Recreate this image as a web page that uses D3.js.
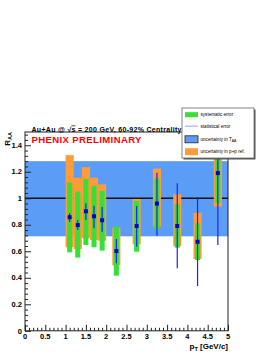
<html lang="en">
<head>
<meta charset="UTF-8">
<script src="https://d3js.org/d3.v7.min.js"></script>
<title>R_AA vs pT</title>
<style>
body { margin: 0; background: #fff; }
svg { display: block; }
text { font-family: "Liberation Sans", Arial, sans-serif; }
</style>
</head>
<body>
<svg id="canvas" width="274" height="355"></svg>
<script>
// data
let pt       = [1.1, 1.3, 1.5, 1.7, 1.9, 2.25, 2.75, 3.25, 3.75, 4.25, 4.75];
let raa      = [0.857, 0.798, 0.902, 0.864, 0.834, 0.602, 0.791, 0.960, 0.791, 0.672, 1.190];
let statLow  = [0.820, 0.760, 0.836, 0.774, 0.748, 0.509, 0.635, 0.718, 0.472, 0.338, 0.648];
let statHigh = [0.887, 0.836, 0.962, 0.944, 0.934, 0.693, 0.942, 1.193, 1.113, 1.010, 1.420];
let sysLow   = [0.592, 0.552, 0.648, 0.630, 0.605, 0.416, 0.597, 0.761, 0.627, 0.534, 0.962];
let sysHigh  = [1.118, 1.050, 1.146, 1.093, 1.057, 0.786, 0.980, 1.150, 0.955, 0.811, 1.420];
let ppLow    = [0.630, 0.617, 0.698, 0.685, 0.680, 0.494, 0.653, 0.786, 0.640, 0.542, 0.937];
let ppHigh   = [1.325, 1.155, 1.236, 1.155, 1.105, 0.778, 0.995, 1.224, 1.030, 0.891, 1.420];
let taaBand  = [0.713, 1.280];
let xTicks   = [0, 0.5, 1, 1.5, 2, 2.5, 3, 3.5, 4, 4.5, 5];
let yTicks   = [0, 0.2, 0.4, 0.6, 0.8, 1, 1.2, 1.4];
let legendLabels = ['systematic error', 'statistical error', 'uncertainty in T', 'uncertainty in p+p ref.'];

let canvas = d3.select('#canvas');
let x = d3.scaleLinear().domain([0, 5]).range([25, 228]);
let y = d3.scaleLinear().domain([0, 1.5]).range([330.8, 132]);

let orange = '#ff9c38';
let green = '#36e036';
let bandBlue = '#5b9cf7';
let statBlue = '#2020ff';

let points = pt.map((p, i) => ({
    pt: p, raa: raa[i],
    sl: statLow[i], sh: statHigh[i],
    yl: sysLow[i], yh: sysHigh[i],
    pl: ppLow[i], ph: ppHigh[i]
}));

// T_AA band
canvas.append('rect')
    .attr('x', x(0)).attr('width', x(5) - x(0))
    .attr('y', y(taaBand[1])).attr('height', y(taaBand[0]) - y(taaBand[1]))
    .attr('fill', bandBlue);

// line at 1
canvas.append('line')
    .attr('x1', x(0)).attr('x2', x(5))
    .attr('y1', y(1)).attr('y2', y(1))
    .attr('stroke', '#111').attr('stroke-width', 1.3);

let ppW = x(0.2) - x(0);
let sysW = x(0.125) - x(0);

canvas.selectAll('.pp').data(points).enter().append('rect')
    .attr('class', 'pp')
    .attr('x', d => x(d.pt) - ppW / 2).attr('width', ppW)
    .attr('y', d => y(d.ph)).attr('height', d => y(d.pl) - y(d.ph))
    .attr('fill', orange);

canvas.selectAll('.sys').data(points).enter().append('rect')
    .attr('class', 'sys')
    .attr('x', d => x(d.pt) - sysW / 2).attr('width', sysW)
    .attr('y', d => y(d.yh)).attr('height', d => y(d.yl) - y(d.yh))
    .attr('fill', green);

canvas.selectAll('.stat').data(points).enter().append('line')
    .attr('class', 'stat')
    .attr('x1', d => x(d.pt)).attr('x2', d => x(d.pt))
    .attr('y1', d => y(d.sh)).attr('y2', d => y(d.sl))
    .attr('stroke', statBlue).attr('stroke-width', 1.2);

canvas.selectAll('.pt').data(points).enter().append('rect')
    .attr('class', 'pt')
    .attr('x', d => x(d.pt) - 2).attr('y', d => y(d.raa) - 2)
    .attr('width', 4).attr('height', 4)
    .attr('fill', '#0000d0');

// frame
canvas.append('rect')
    .attr('x', x(0)).attr('y', y(1.5))
    .attr('width', x(5) - x(0)).attr('height', y(0) - y(1.5))
    .attr('fill', 'none').attr('stroke', '#222').attr('stroke-width', 1);

// axes ticks (ROOT style, inward)
let xAxis = d3.axisTop(x).tickValues(d3.range(0, 5.001, 0.1)).tickSize(3).tickFormat('');
let gx = canvas.append('g').attr('transform', 'translate(0,' + y(0) + ')').call(xAxis);
gx.select('.domain').remove();
gx.selectAll('.tick line').attr('stroke', '#222')
    .attr('y2', d => Math.abs(d * 2 - Math.round(d * 2)) < 1e-6 ? -6 : -3);

canvas.selectAll('.xlab').data(xTicks).enter().append('text')
    .attr('x', d => x(d)).attr('y', 339)
    .attr('text-anchor', 'middle')
    .attr('font-size', 7.5).attr('font-weight', 'bold')
    .text(d => d);

let yAxis = d3.axisRight(y).tickValues(d3.range(0, 1.5001, 0.04)).tickSize(3).tickFormat('');
let gy = canvas.append('g').attr('transform', 'translate(' + x(0) + ',0)').call(yAxis);
gy.select('.domain').remove();
gy.selectAll('.tick line').attr('stroke', '#222')
    .attr('x2', d => Math.abs(d * 5 - Math.round(d * 5)) < 1e-6 ? 6 : 3);

canvas.selectAll('.ylab').data(yTicks).enter().append('text')
    .attr('x', 22).attr('y', d => y(d) + 2.7)
    .attr('text-anchor', 'end')
    .attr('font-size', 7.5).attr('font-weight', 'bold')
    .text(d => d);

// axis titles
let ylab = canvas.append('text')
    .attr('transform', 'translate(10,132) rotate(-90)')
    .attr('text-anchor', 'end')
    .attr('font-size', 8).attr('font-weight', 'bold');
ylab.append('tspan').text('R');
ylab.append('tspan').attr('font-size', 5.5).attr('dy', 2).text('AA');

let xlab = canvas.append('text')
    .attr('x', 228).attr('y', 348.5)
    .attr('text-anchor', 'end')
    .attr('font-size', 8).attr('font-weight', 'bold');
xlab.append('tspan').text('p');
xlab.append('tspan').attr('font-size', 5.5).attr('dy', 2).text('T');
xlab.append('tspan').attr('dy', -2).text(' [GeV/c]');

// header texts
let title = canvas.append('text')
    .attr('x', 31.5).attr('y', 131.5)
    .attr('font-size', 7).attr('font-weight', 'bold')
    .attr('textLength', 150);
title.append('tspan').text('Au+Au @ √');
title.append('tspan').style('text-decoration', 'overline').text('s');
title.append('tspan').text(' = 200 GeV, 60-92% Centrality');

canvas.append('text')
    .attr('x', 31.5).attr('y', 143.3)
    .attr('font-size', 9.6).attr('font-weight', 'bold')
    .attr('fill', '#ff0000')
    .attr('textLength', 110)
    .text('PHENIX PRELIMINARY');

// legend
let lg = canvas.append('g').attr('transform', 'translate(182,108)');
lg.append('rect').attr('x', 1.5).attr('y', 1.5).attr('width', 72).attr('height', 50)
    .attr('fill', '#555');
lg.append('rect').attr('width', 72).attr('height', 50)
    .attr('fill', '#fff').attr('stroke', '#666').attr('stroke-width', 0.8);

let rowY = [6.7, 18.2, 31.3, 43.7];
lg.append('rect').attr('x', 3).attr('y', rowY[0] - 2.5).attr('width', 13).attr('height', 5).attr('fill', green);
lg.append('line').attr('x1', 3).attr('x2', 16).attr('y1', rowY[1]).attr('y2', rowY[1])
    .attr('stroke', '#9a9aff').attr('stroke-width', 1);
lg.append('rect').attr('x', 3).attr('y', rowY[2] - 3.5).attr('width', 13).attr('height', 7)
    .attr('fill', bandBlue).attr('stroke', '#222').attr('stroke-width', 0.8);
lg.append('rect').attr('x', 3).attr('y', rowY[3] - 3.5).attr('width', 13).attr('height', 7).attr('fill', orange);

lg.selectAll('.lgtext').data(legendLabels).enter().append('text')
    .attr('class', 'lgtext')
    .attr('x', 18.5).attr('y', (d, i) => rowY[i] + 1.6)
    .attr('font-size', 4.6)
    .text(d => d)
    .filter((d, i) => i === 2)
    .append('tspan').attr('font-size', 3.4).attr('dy', 1.2).text('AA');
</script>
</body>
</html>
